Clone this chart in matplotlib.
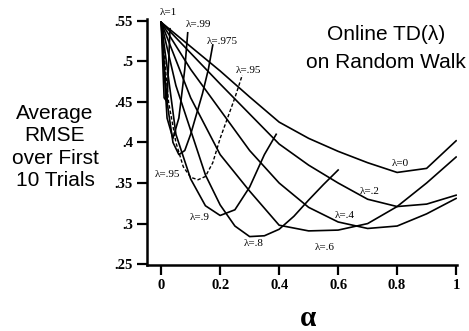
import matplotlib
matplotlib.use("Agg")
import matplotlib.pyplot as plt

# alpha grid shared by the low-lambda curves
alpha = [0, .1, .2, .3, .4, .5, .6, .7, .8, .9, 1.0]
rmse_l0 = [0.548, 0.518, 0.488, 0.456, 0.425, 0.405, 0.389, 0.375, 0.363, 0.368, 0.402]
rmse_l2 = [0.548, 0.510, 0.472, 0.435, 0.398, 0.372, 0.350, 0.330, 0.321, 0.324, 0.335]
rmse_l4 = [0.548, 0.490, 0.440, 0.390, 0.350, 0.320, 0.302, 0.294, 0.297, 0.312, 0.331]
rmse_l6 = [0.548, 0.455, 0.385, 0.340, 0.298, 0.291, 0.292, 0.300, 0.321, 0.350, 0.382]

alpha_l8 = [0, .05, .1, .15, .2, .25, .3, .35, .4, .45, .5, .55, .6]
rmse_l8 = [0.548, 0.470, 0.415, 0.360, 0.323, 0.297, 0.284, 0.285, 0.293, 0.309, 0.329, 0.348, 0.366]

alpha_l9 = [0, .05, .1, .15, .2, .25, .3, .35, .39]
rmse_l9 = [0.548, 0.410, 0.355, 0.322, 0.310, 0.317, 0.345, 0.385, 0.410]

alpha_l95 = [0, .025, .05, .075, .1, .125, .15, .175, .2, .225, .25, .275]
rmse_l95 = [0.548, 0.450, 0.400, 0.370, 0.357, 0.354, 0.358, 0.375, 0.405, 0.430, 0.455, 0.483]

alpha_l975 = [0, .02, .04, .06, .08, .1, .12, .14, .16, .175]
rmse_l975 = [0.548, 0.450, 0.400, 0.385, 0.390, 0.410, 0.435, 0.460, 0.490, 0.520]

alpha_l99 = [0, .02, .04, .06, .08, .09]
rmse_l99 = [0.548, 0.430, 0.405, 0.430, 0.490, 0.535]

alpha_l1 = [0, .01, .02, .03]
rmse_l1 = [0.548, 0.455, 0.450, 0.540]

yticks = [.25, .3, .35, .4, .45, .5, .55]
ytick_labels = ['.25', '.3', '.35', '.4', '.45', '.5', '.55']
xticks = [0, .2, .4, .6, .8, 1]
xtick_labels = ['0', '0.2', '0.4', '0.6', '0.8', '1']

fig = plt.figure(figsize=(4.69, 3.31), dpi=100)
ax = fig.add_axes([147/469, 1 - 265/331, 310/469, 246/331])

lw = 1.2
ax.plot(alpha, rmse_l0, color='k', lw=lw)
ax.plot(alpha, rmse_l2, color='k', lw=lw)
ax.plot(alpha, rmse_l4, color='k', lw=lw)
ax.plot(alpha, rmse_l6, color='k', lw=lw)
ax.plot(alpha_l8, rmse_l8, color='k', lw=lw)
ax.plot(alpha_l9, rmse_l9, color='k', lw=lw)
ax.plot(alpha_l95, rmse_l95, color='k', lw=1.0, dashes=(2.5, 1.5))
ax.plot(alpha_l975, rmse_l975, color='k', lw=lw)
ax.plot(alpha_l99, rmse_l99, color='k', lw=lw)
ax.plot(alpha_l1, rmse_l1, color='k', lw=lw)

# curve labels
lab = dict(fontsize=8, family='Liberation Serif', ha='center', va='center')
ax.text(0.024, 0.560, 'λ=1', **lab)
ax.text(0.125, 0.545, 'λ=.99', **lab)
ax.text(0.207, 0.524, 'λ=.975', **lab)
ax.text(0.295, 0.488, 'λ=.95', **lab)
ax.text(0.020, 0.360, 'λ=.95', **lab)
ax.text(0.132, 0.307, 'λ=.9', **lab)
ax.text(0.315, 0.276, 'λ=.8', **lab)
ax.text(0.556, 0.271, 'λ=.6', **lab)
ax.text(0.624, 0.310, 'λ=.4', **lab)
ax.text(0.708, 0.340, 'λ=.2', **lab)
ax.text(0.810, 0.374, 'λ=0', **lab)

ax.set_xlim(-0.048, 1.003)
ax.set_ylim(0.249, 0.552)
ax.set_xticks(xticks)
ax.set_xticklabels(xtick_labels)
ax.set_yticks(yticks)
ax.set_yticklabels(ytick_labels)
for s in ['top', 'right']:
    ax.spines[s].set_visible(False)
for s in ['left', 'bottom']:
    ax.spines[s].set_linewidth(1.8)
ax.tick_params(direction='out', length=7, width=1.6, pad=3)
for t in ax.get_xticklabels() + ax.get_yticklabels():
    t.set_family('Liberation Serif')
    t.set_fontweight('bold')
    t.set_fontsize(10.5)

fig.text(308/469, 1 - 319/331, 'α', family='Liberation Serif', fontweight='bold',
         fontsize=21, ha='center', va='center')
fig.text(55/469, 1 - 147/331, 'Average\nRMSE\nover First\n10 Trials',
         family='Liberation Sans', fontsize=15, ha='center', va='center',
         multialignment='center', linespacing=1.22)
fig.text(386/469, 1 - 48/331, 'Online TD(λ)\non Random Walk',
         family='Liberation Sans', fontsize=15, ha='center', va='center',
         multialignment='center', linespacing=1.6)

fig.savefig('out.png', dpi=100)
